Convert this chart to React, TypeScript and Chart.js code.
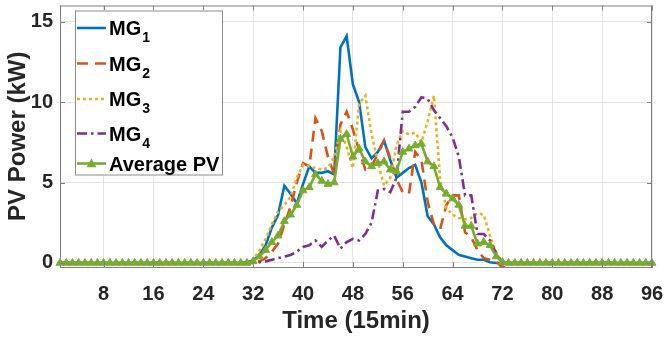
import React, { useEffect, useRef } from "react";
import { Chart, registerables } from "chart.js";

Chart.register(...registerables);

// ---------- data ----------
const timeSlots: number[] = Array.from({ length: 96 }, (_, i) => i + 1);
const xTickValues = [8, 16, 24, 32, 40, 48, 56, 64, 72, 80, 88, 96];
const yTickValues = [0, 5, 10, 15];

const mg1 = [
  0, 0, 0, 0, 0, 0, 0, 0, 0, 0, 0, 0,
  0, 0, 0, 0, 0, 0, 0, 0, 0, 0, 0, 0,
  0, 0, 0, 0, 0, 0, 0.05, 0.15, 0.5, 1.1, 2.2, 3.0,
  4.8, 4.3, 3.7, 4.9, 6.0, 5.6, 5.6, 5.7, 5.5, 13.4, 14.1, 11.1,
  10.0, 7.2, 6.5, 6.9, 7.6, 6.4, 5.3, 5.6, 5.9, 6.1, 5.0, 2.9,
  2.4, 1.6, 1.1, 0.8, 0.5, 0.4, 0.3, 0.2, 0.2, 0.05, 0, 0,
  0, 0, 0, 0, 0, 0, 0, 0, 0, 0, 0, 0,
  0, 0, 0, 0, 0, 0, 0, 0, 0, 0, 0, 0,
];
const mg2 = [
  0, 0, 0, 0, 0, 0, 0, 0, 0, 0, 0, 0,
  0, 0, 0, 0, 0, 0, 0, 0, 0, 0, 0, 0,
  0, 0, 0, 0, 0, 0, 0, 0, 0.1, 0.3, 0.7, 1.2,
  2.4, 3.5, 5.0, 6.2, 6.0, 9.0, 8.2, 6.6, 5.5, 8.6, 9.4, 8.3,
  7.0, 5.8, 6.0, 6.8, 7.6, 6.5, 5.2, 4.4, 4.3, 6.9, 6.4, 3.8,
  2.4, 2.1, 3.6, 4.2, 4.2, 1.9, 1.6, 0.8, 0.3, 0.2, 0.1, -0.3,
  0, 0, 0, 0, 0, 0, 0, 0, 0, 0, 0, 0,
  0, 0, 0, 0, 0, 0, 0, 0, 0, 0, 0, 0,
];
const mg3 = [
  0, 0, 0, 0, 0, 0, 0, 0, 0, 0, 0, 0,
  0, 0, 0, 0, 0, 0, 0, 0, 0, 0, 0, 0,
  0, 0, 0, 0, 0, 0, 0, 0.2, 0.8, 1.5, 2.4, 3.2,
  3.6, 4.1, 5.3, 6.1, 6.0, 5.9, 5.8, 5.9, 6.6, 8.2, 7.2, 5.9,
  9.9, 10.4, 8.0, 6.3, 4.8, 5.3, 7.3, 8.2, 8.0, 8.1, 7.5, 8.8,
  10.4, 5.2, 3.4, 3.0, 2.8, 2.7, 2.8, 3.1, 3.0, 1.7, 0.6, 0,
  0, 0, 0, 0, 0, 0, 0, 0, 0, 0, 0, 0,
  0, 0, 0, 0, 0, 0, 0, 0, 0, 0, 0, 0,
];
const mg4 = [
  0, 0, 0, 0, 0, 0, 0, 0, 0, 0, 0, 0,
  0, 0, 0, 0, 0, 0, 0, 0, 0, 0, 0, 0,
  0, 0, 0, 0, 0, 0, 0, 0, 0.05, 0.1, 0.2, 0.3,
  0.4, 0.5, 0.7, 1.0, 1.1, 1.4, 1.0, 1.4, 1.7, 0.9, 1.3, 1.5,
  1.4, 1.8, 2.5, 4.5, 4.6, 4.4, 5.3, 9.4, 9.4, 9.7, 10.3, 10.2,
  9.5, 9.0, 8.5, 7.8, 6.6, 4.2, 4.2, 1.8, 1.8, 1.4, 0.6, 0,
  0, 0, 0, 0, 0, 0, 0, 0, 0, 0, 0, 0,
  0, 0, 0, 0, 0, 0, 0, 0, 0, 0, 0, 0,
];
const averagePv = [
  0, 0, 0, 0, 0, 0, 0, 0, 0, 0, 0, 0,
  0, 0, 0, 0, 0, 0, 0, 0, 0, 0, 0, 0,
  0, 0, 0, 0, 0, 0, 0, 0.1, 0.4, 0.8, 1.3, 1.7,
  2.6, 3.0, 3.6, 4.5, 4.7, 5.5, 5.1, 4.9, 5.0, 7.7, 8.0, 6.6,
  7.1, 6.3, 6.0, 6.2, 6.3, 5.8, 5.7, 6.9, 7.1, 7.3, 7.4, 6.3,
  6.0, 4.7, 4.3, 4.0, 3.6, 2.3, 2.3, 1.2, 1.3, 1.1, 0.4, 0.05,
  0, 0, 0, 0, 0, 0, 0, 0, 0, 0, 0, 0,
  0, 0, 0, 0, 0, 0, 0, 0, 0, 0, 0, 0,
];

const seriesNames = ["MG", "MG", "MG", "MG", "Average PV"];
const seriesSubscripts = ["1", "2", "3", "4", ""];
const xTitle = "Time (15min)";
const yTitle = "PV Power (kW)";

// ---------- styles ----------
const FONT = "'Liberation Sans', Arial, Helvetica, sans-serif";
const TEXT = "#262626";
const colors = ["#0072BD", "#D95319", "#EDB120", "#7E2F8E", "#77AC30"];
const dashes: number[][] = [[], [11, 7], [3, 3], [10, 4, 2.5, 4], []];
const LW = 2.6;

const allSeries = [mg1, mg2, mg3, mg4, averagePv];

const frameAndLegend = {
  id: "frameAndLegend",
  afterDraw(chart: any) {
    const { ctx, chartArea, scales } = chart;
    const { left, right, top, bottom } = chartArea;
    ctx.save();
    ctx.strokeStyle = "#808080";
    ctx.lineWidth = 1;
    ctx.setLineDash([]);
    ctx.beginPath();
    ctx.moveTo(left, top + 0.5);
    ctx.lineTo(right, top + 0.5);
    ctx.moveTo(right - 0.5, top);
    ctx.lineTo(right - 0.5, bottom);
    xTickValues.forEach((v) => {
      const px = Math.round(scales.x.getPixelForValue(v)) + 0.5;
      ctx.moveTo(px, bottom);
      ctx.lineTo(px, bottom - 5);
      ctx.moveTo(px, top);
      ctx.lineTo(px, top + 5);
    });
    yTickValues.forEach((v) => {
      const py = Math.round(scales.y.getPixelForValue(v)) + 0.5;
      ctx.moveTo(left, py);
      ctx.lineTo(left + 5, py);
      ctx.moveTo(right, py);
      ctx.lineTo(right - 5, py);
    });
    ctx.stroke();

    // legend
    const bx = left + 15;
    const by = top + 5;
    const bw = 148;
    const bh = 165;
    ctx.fillStyle = "#ffffff";
    ctx.fillRect(bx, by, bw, bh);
    ctx.strokeStyle = "#8c8c8c";
    ctx.strokeRect(bx + 0.5, by + 0.5, bw - 1, bh - 1);
    const rowY = [17.5, 53, 88.5, 123, 153];
    seriesNames.forEach((name, i) => {
      const y = by + rowY[i];
      const x0 = bx + 2;
      const x1 = bx + 31;
      ctx.strokeStyle = colors[i];
      ctx.lineWidth = LW;
      ctx.setLineDash(dashes[i]);
      ctx.beginPath();
      ctx.moveTo(x0, y);
      ctx.lineTo(x1, y);
      ctx.stroke();
      ctx.setLineDash([]);
      if (i === 4) {
        const cx = (x0 + x1) / 2;
        const r = 5;
        ctx.fillStyle = colors[i];
        ctx.beginPath();
        ctx.moveTo(cx, y - r);
        ctx.lineTo(cx + r, y + r * 0.75);
        ctx.lineTo(cx - r, y + r * 0.75);
        ctx.closePath();
        ctx.fill();
      }
      ctx.fillStyle = "#000000";
      ctx.textAlign = "left";
      ctx.textBaseline = "alphabetic";
      ctx.font = `bold 20px ${FONT}`;
      const tx = bx + 34;
      ctx.fillText(name, tx, y + 7);
      if (seriesSubscripts[i]) {
        const w = ctx.measureText(name).width;
        ctx.font = `bold 14px ${FONT}`;
        ctx.fillText(seriesSubscripts[i], tx + w + 1, y + 14);
      }
    });
    ctx.restore();
  },
};

export default function App() {
  const ref = useRef<HTMLCanvasElement | null>(null);

  useEffect(() => {
    if (!ref.current) return;
    const datasets = allSeries.map((vals, i) => ({
      label: seriesNames[i] + seriesSubscripts[i],
      data: vals.map((v, k) => ({ x: timeSlots[k], y: v })),
      borderColor: colors[i],
      backgroundColor: colors[i],
      borderWidth: LW,
      borderDash: dashes[i],
      tension: 0,
      pointRadius: i === 4 ? 4.5 : 0,
      pointHoverRadius: 0,
      pointStyle: "triangle",
      pointBackgroundColor: colors[i],
      pointBorderColor: colors[i],
      pointBorderWidth: 1,
      order: 5 - i,
      clip: i === 4 ? false : undefined,
    }));

    const chart = new Chart(ref.current, {
      type: "line",
      data: { datasets },
      options: {
        responsive: false,
        animation: false,
        events: [],
        layout: { padding: { top: 3, right: 13, left: 0, bottom: 0 } },
        plugins: {
          legend: { display: false },
          tooltip: { enabled: false },
        },
        scales: {
          x: {
            type: "linear",
            min: 1,
            max: 96,
            afterBuildTicks: (axis: any) => {
              axis.ticks = xTickValues.map((v) => ({ value: v }));
            },
            afterFit: (axis: any) => {
              axis.height = 70;
              axis.paddingLeft = 0;
              axis.paddingRight = 0;
            },
            grid: { color: "#e3e3e3", drawTicks: false, lineWidth: 1 },
            border: { display: true, color: "#808080", width: 1 },
            ticks: {
              autoSkip: false,
              maxRotation: 0,
              padding: 15,
              color: TEXT,
              font: { family: FONT, size: 20, weight: "bold" },
              callback: (v: any) => String(v),
            },
            title: {
              display: true,
              text: xTitle,
              color: TEXT,
              font: { family: FONT, size: 24, weight: "bold" },
              padding: { top: 0, bottom: 1 },
            },
          },
          y: {
            type: "linear",
            min: -0.25,
            max: 16,
            afterBuildTicks: (axis: any) => {
              axis.ticks = yTickValues.map((v) => ({ value: v }));
            },
            afterFit: (axis: any) => {
              axis.width = 60;
              axis.paddingTop = 0;
              axis.paddingBottom = 0;
            },
            grid: { color: "#e3e3e3", drawTicks: false, lineWidth: 1 },
            border: { display: true, color: "#808080", width: 1 },
            ticks: {
              padding: 7,
              color: TEXT,
              font: { family: FONT, size: 20, weight: "bold" },
              callback: (v: any) => String(v),
            },
            title: {
              display: true,
              text: yTitle,
              color: TEXT,
              font: { family: FONT, size: 24, weight: "bold" },
              padding: { top: 4, bottom: 0 },
            },
          },
        },
      },
      plugins: [frameAndLegend],
    } as any);

    return () => chart.destroy();
  }, []);

  return (
    <div style={{ position: "fixed", left: 0, top: 0, width: 665, height: 337, background: "#fff" }}>
      <canvas ref={ref} width={665} height={337} style={{ display: "block" }} />
    </div>
  );
}
